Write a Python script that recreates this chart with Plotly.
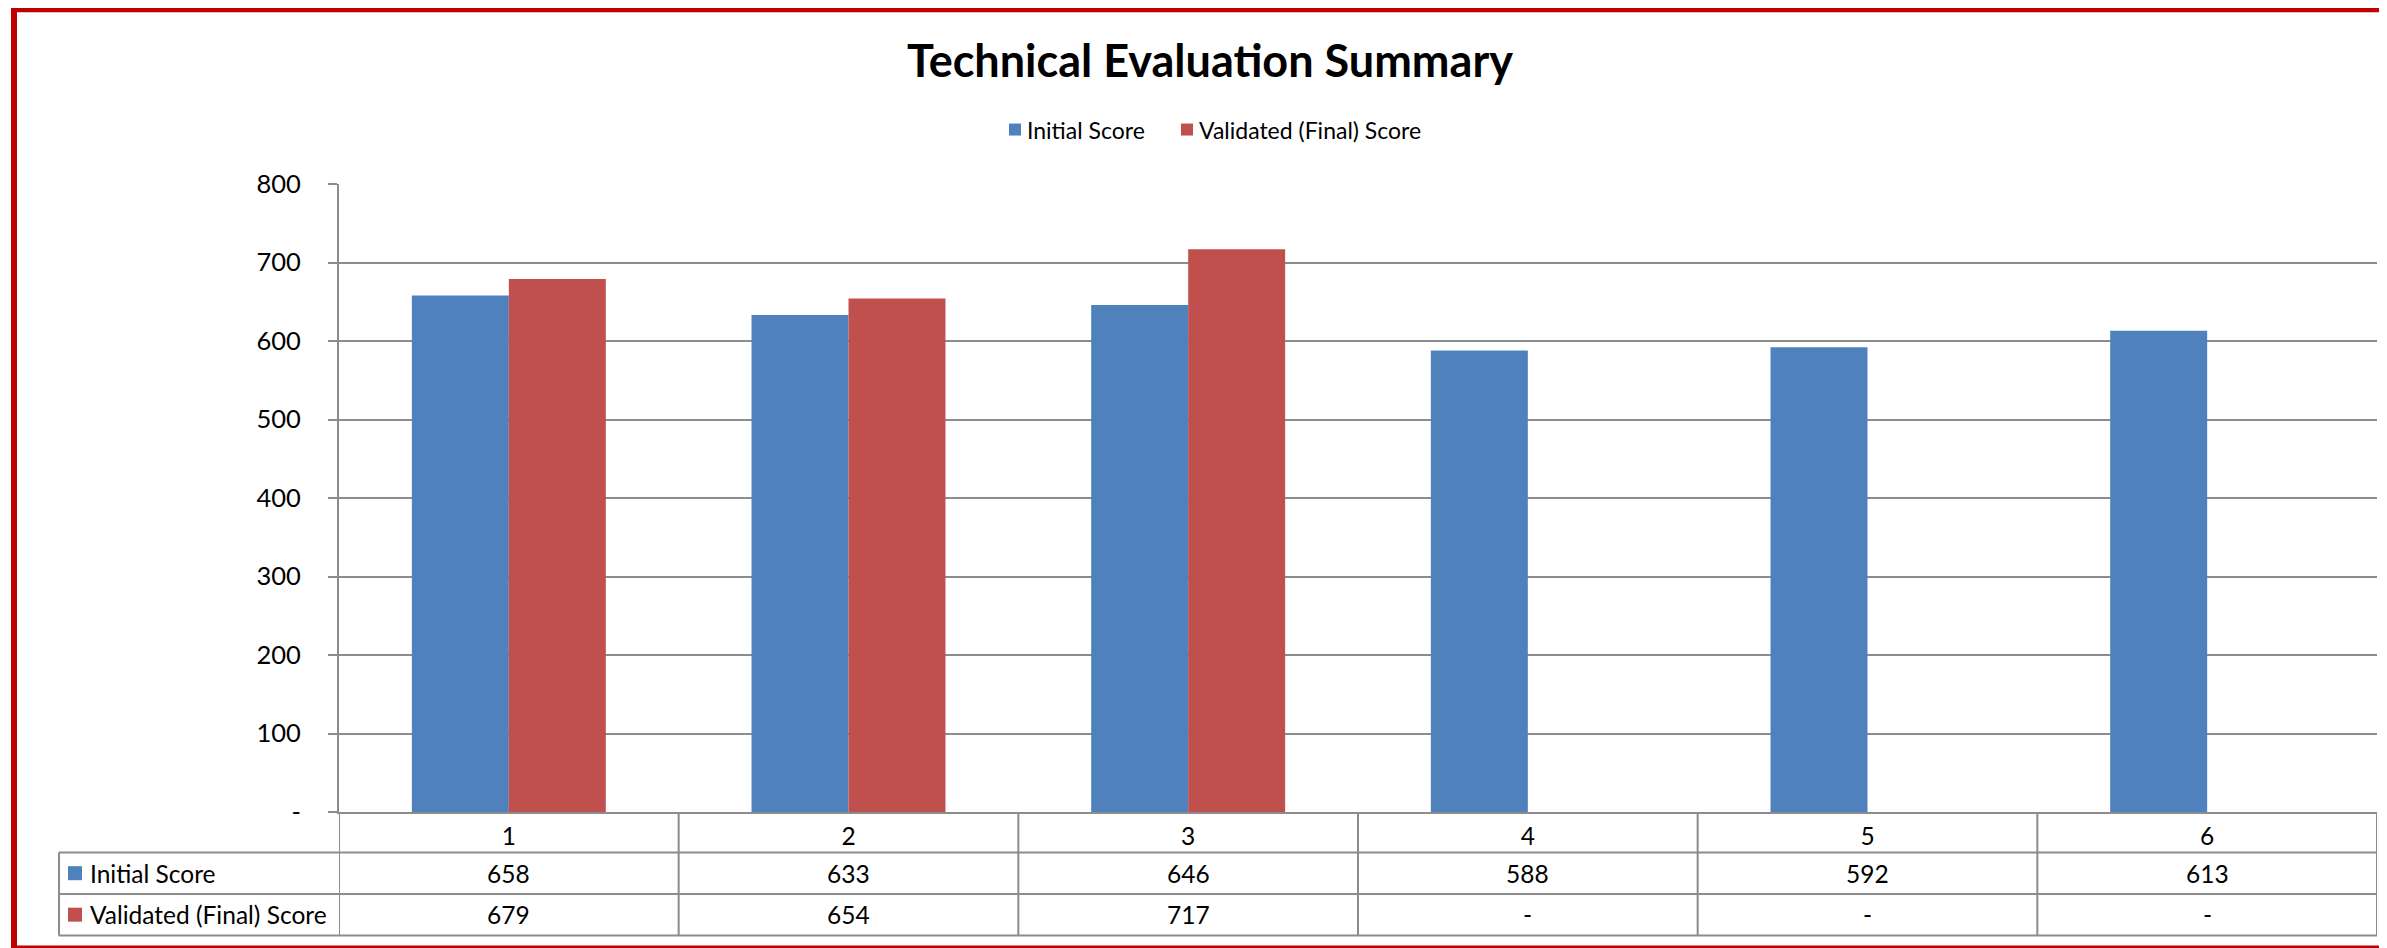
import plotly.graph_objects as go

# ---------------- data ----------------
categories = [1, 2, 3, 4, 5, 6]
category_labels = ["1", "2", "3", "4", "5", "6"]
initial_score = [658, 633, 646, 588, 592, 613]
validated_score = [679, 654, 717, None, None, None]
series_names = ["Initial Score", "Validated (Final) Score"]
y_tick_values = [0, 100, 200, 300, 400, 500, 600, 700, 800]
y_tick_labels = ["-", "100", "200", "300", "400", "500", "600", "700", "800"]
title_text = "Technical Evaluation Summary"

# ---------------- style ----------------
SW, SH = 2387, 948          # screenshot size
OFF = 8                     # page body margin
W, H = SW - OFF, SH - OFF   # figure size
# plot area in screenshot pixels
PL, PR, PT, PB = 339, 2377, 184, 812.5
ML, MR, MT, MB = PL - OFF, W - (PR - OFF), PT - OFF, H - (PB - OFF)
BLUE = "#4F81BD"
RED = "#C0504D"
GRID = "#8C8C8C"
BORDER = "#C00000"
FONT = "Lato"
TXT = 24.5
colors = [BLUE, RED]


def px_x(x):
    return (x - PL) / (PR - PL)


def px_y(y):
    return (PB - y) / (PB - PT)


fig = go.Figure()
for name, vals, col in zip(series_names, [initial_score, validated_score], colors):
    fig.add_trace(go.Bar(x=categories, y=vals, name=name, marker_color=col,
                         marker_line_width=0, showlegend=False))

shapes = []
annotations = []

# ---- legend (drawn at top, centered) ----
legend_swatch_x = [1009, 1181]
for name, col, sx in zip(series_names, colors, legend_swatch_x):
    cy = 129.5
    shapes.append(dict(type="rect", xref="paper", yref="paper",
                       x0=px_x(sx), x1=px_x(sx + 12), y0=px_y(cy + 6), y1=px_y(cy - 6),
                       fillcolor=col, line=dict(width=0)))
    annotations.append(dict(xref="paper", yref="paper", x=px_x(sx + 16), y=px_y(cy),
                            xanchor="left", yanchor="middle", text=name, showarrow=False,
                            font=dict(family=FONT, size=23, color="#000000")))

# ---- data table ----
row_tops = [PB, 853, 894.5, 936]
label_left = 59

for yy in row_tops[1:]:
    shapes.append(dict(type="line", xref="paper", yref="paper",
                       x0=px_x(label_left), x1=1, y0=px_y(yy), y1=px_y(yy),
                       line=dict(color=GRID, width=2)))
bounds = [categories[0] - 0.5] + [c + 0.5 for c in categories]
for b in bounds:
    shapes.append(dict(type="line", xref="x", yref="paper",
                       x0=b, x1=b, y0=px_y(row_tops[0]), y1=px_y(row_tops[-1]),
                       line=dict(color=GRID, width=2)))
shapes.append(dict(type="line", xref="paper", yref="paper",
                   x0=px_x(label_left), x1=px_x(label_left),
                   y0=px_y(row_tops[1]), y1=px_y(row_tops[-1]),
                   line=dict(color=GRID, width=2)))

for r, (name, vals, col) in enumerate(zip(series_names, [initial_score, validated_score], colors)):
    top, bot = row_tops[r + 1], row_tops[r + 2]
    mid = (top + bot) / 2
    shapes.append(dict(type="rect", xref="paper", yref="paper",
                       x0=px_x(68), x1=px_x(82), y0=px_y(mid + 7), y1=px_y(mid - 7),
                       fillcolor=col, line=dict(width=0)))
    annotations.append(dict(xref="paper", yref="paper", x=px_x(88), y=px_y(mid),
                            xanchor="left", yanchor="middle", text=name, showarrow=False,
                            font=dict(family=FONT, size=TXT, color="#000000")))
    for c, v in zip(categories, vals):
        annotations.append(dict(xref="x", yref="paper", x=c, y=px_y(mid),
                                xanchor="center", yanchor="middle",
                                text=("-" if v is None else f"{v}"), showarrow=False,
                                font=dict(family=FONT, size=TXT, color="#000000")))

# ---- red frame (chart border, cropped on the right) ----
shapes.append(dict(type="rect", xref="paper", yref="paper",
                   x0=px_x(14), x1=px_x(2430), y0=px_y(949), y1=px_y(9),
                   line=dict(color=BORDER, width=6), fillcolor="rgba(0,0,0,0)", layer="above"))

fig.update_layout(
    width=W, height=H,
    margin=dict(l=ML, r=MR, t=MT, b=MB, pad=0),
    paper_bgcolor="white", plot_bgcolor="white",
    font=dict(family=FONT, size=TXT, color="#000000"),
    title=dict(text=f"<b>{title_text}</b>", x=(1210 - OFF) / W, xref="container", xanchor="center",
               y=1 - (61 - OFF) / H, yref="container", yanchor="middle",
               font=dict(family=FONT, size=45, color="#000000")),
    barmode="group", bargap=0.429, bargroupgap=0,
    showlegend=False,
    shapes=shapes, annotations=annotations,
)

fig.update_xaxes(range=[bounds[0], bounds[-1]], tickvals=categories, ticktext=category_labels,
                 showline=True, linecolor=GRID, linewidth=2, showgrid=False, zeroline=False,
                 ticks="", tickfont=dict(family=FONT, size=TXT, color="#000000"),
                 ticklabelstandoff=2)
fig.update_yaxes(range=[0, 800], tickvals=y_tick_values, ticktext=y_tick_labels,
                 showline=True, linecolor=GRID, linewidth=2,
                 showgrid=True, gridcolor=GRID, gridwidth=2, zeroline=False,
                 ticks="outside", ticklen=9, tickwidth=2, tickcolor=GRID,
                 ticklabelstandoff=22,
                 tickfont=dict(family=FONT, size=25.5, color="#000000"))

fig.write_html("out.html")
